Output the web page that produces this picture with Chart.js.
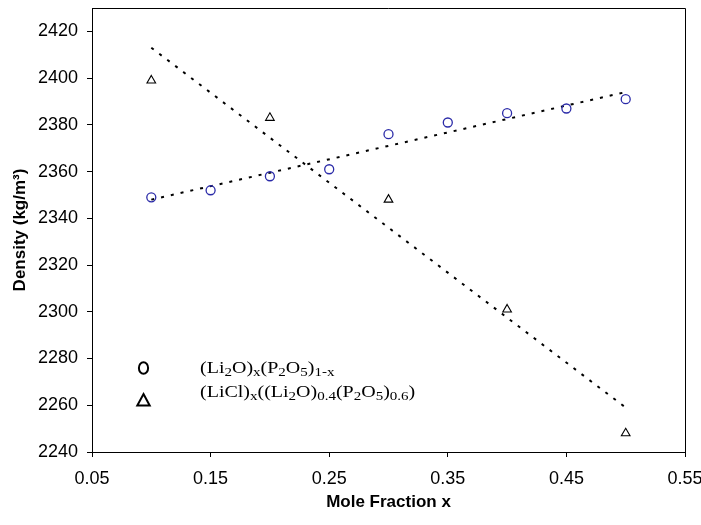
<!doctype html>
<html lang="en">
<head>
<meta charset="utf-8">
<title>Density vs mole fraction</title>
<script src="https://cdn.jsdelivr.net/npm/chart.js"></script>
<style>
  html, body { margin: 0; padding: 0; background: #fff; }
</style>
</head>
<body>
<canvas id="densityChart" width="701" height="525"></canvas>
<script>
// (Li2O)x(P2O5)1-x
const xLi2O = [0.10, 0.15, 0.20, 0.25, 0.30, 0.35, 0.40, 0.45, 0.50];
const densLi2O = [2349, 2352, 2358, 2361, 2376, 2381, 2385, 2387, 2391];

// (LiCl)x((Li2O)0.4(P2O5)0.6)
const xLiCl = [0.10, 0.20, 0.30, 0.40, 0.50];
const densLiCl = [2399, 2383, 2348, 2301, 2248];

// linear trend lines, end points
const trendX = [0.10, 0.50];
const trendLi2O = [2348, 2394];
const trendLiCl = [2413, 2259];

// axis ticks
const xTicks = { min: 0.05, max: 0.55, step: 0.1 };
const yTicks = { min: 2240, max: 2430, step: 20, lastLabel: 2420 };

const toXY = (xs, ys) => xs.map((x, i) => ({ x: x, y: ys[i] }));

const sansFont = 'Liberation Sans, Arial, sans-serif';
const serifFont = 'Liberation Serif, Times New Roman, serif';

// top/right frame of the plot area
const frameBox = {
    id: 'frameBox',
    beforeDatasetsDraw(chart) {
        const { ctx, chartArea: a } = chart;
        ctx.save();
        ctx.strokeStyle = '#000';
        ctx.lineWidth = 1;
        ctx.beginPath();
        ctx.moveTo(a.left, Math.round(a.top) + 0.5);
        ctx.lineTo(Math.round(a.right) + 0.5, Math.round(a.top) + 0.5);
        ctx.lineTo(Math.round(a.right) + 0.5, a.bottom);
        ctx.stroke();
        ctx.restore();
    }
};

// legend with subscripts, drawn inside the plot
const legendRows = [
    { marker: 'circle', parts: [['(Li', 0], ['2', 1], ['O)', 0], ['x', 1], ['(P', 0], ['2', 1], ['O', 0], ['5', 1], [')', 0], ['1-x', 1]] },
    { marker: 'triangle', parts: [['(LiCl)', 0], ['x', 1], ['((Li', 0], ['2', 1], ['O)', 0], ['0.4', 1], ['(P', 0], ['2', 1], ['O', 0], ['5', 1], [')', 0], ['0.6', 1], [')', 0]] }
];

const subLegend = {
    id: 'subLegend',
    afterDraw(chart) {
        const ctx = chart.ctx;
        ctx.save();
        ctx.fillStyle = '#000';
        ctx.strokeStyle = '#000';
        legendRows.forEach((row, r) => {
            const baseY = 373 + r * 24;
            const mx = 143.5;
            ctx.lineWidth = 2;
            ctx.beginPath();
            if (row.marker === 'circle') {
                ctx.ellipse(mx, 368, 4.6, 5.8, 0, 0, Math.PI * 2);
            } else {
                ctx.moveTo(mx, 394);
                ctx.lineTo(mx + 6.2, 405.5);
                ctx.lineTo(mx - 6.2, 405.5);
                ctx.closePath();
            }
            ctx.stroke();

            ctx.save();
            ctx.translate(200, baseY);
            ctx.scale(1.25, 1);
            ctx.textBaseline = 'alphabetic';
            let x = 0;
            row.parts.forEach(([txt, sub]) => {
                ctx.font = sub ? '12px ' + serifFont : '16px ' + serifFont;
                ctx.fillText(txt, x, sub ? 3 : 0);
                x += ctx.measureText(txt).width;
            });
            ctx.restore();
        });
        ctx.restore();
    }
};

const densityChart = new Chart(document.getElementById('densityChart'), {
    type: 'scatter',
    data: {
        datasets: [
            {
                label: '(Li2O)x(P2O5)1-x',
                data: toXY(xLi2O, densLi2O),
                pointStyle: 'circle',
                pointRadius: 4.5,
                pointBorderWidth: 1.3,
                pointBorderColor: '#2a2aa8',
                pointBackgroundColor: 'rgba(0,0,0,0)',
                showLine: false,
                order: 1
            },
            {
                label: '(LiCl)x((Li2O)0.4(P2O5)0.6)',
                data: toXY(xLiCl, densLiCl),
                pointStyle: 'triangle',
                pointRadius: 5,
                pointBorderWidth: 1.1,
                pointBorderColor: '#000',
                pointBackgroundColor: 'rgba(0,0,0,0)',
                showLine: false,
                order: 1
            },
            {
                label: 'trend 1',
                data: toXY(trendX, trendLi2O),
                showLine: true,
                borderColor: '#000',
                borderWidth: 2,
                borderDash: [3, 7],
                pointRadius: 0,
                order: 2
            },
            {
                label: 'trend 2',
                data: toXY(trendX, trendLiCl),
                showLine: true,
                borderColor: '#000',
                borderWidth: 2,
                borderDash: [3, 7],
                pointRadius: 0,
                order: 2
            }
        ]
    },
    options: {
        responsive: false,
        animation: false,
        layout: { padding: { top: 8, right: 16, left: 0, bottom: 0 } },
        plugins: {
            legend: { display: false },
            tooltip: { enabled: false }
        },
        scales: {
            x: {
                type: 'linear',
                min: xTicks.min,
                max: xTicks.max,
                ticks: {
                    stepSize: xTicks.step,
                    autoSkip: false,
                    maxRotation: 0,
                    padding: 11,
                    color: '#000',
                    font: { family: sansFont, size: 18 },
                    callback: v => v.toFixed(2)
                },
                grid: { drawOnChartArea: false, drawTicks: true, tickLength: 5, color: '#000' },
                border: { color: '#000', width: 1 },
                title: {
                    display: true,
                    text: 'Mole Fraction x',
                    color: '#000',
                    font: { family: sansFont, size: 17, weight: 'bold' },
                    padding: { top: 0, bottom: 12 }
                },
                afterFit: s => { s.height = 73; s.paddingLeft = 0; s.paddingRight = 0; }
            },
            y: {
                type: 'linear',
                min: yTicks.min,
                max: yTicks.max,
                afterBuildTicks: s => { s.ticks = s.ticks.filter(t => t.value <= yTicks.lastLabel); },
                ticks: {
                    stepSize: yTicks.step,
                    autoSkip: false,
                    padding: 9,
                    color: '#000',
                    font: { family: sansFont, size: 18 },
                    callback: v => String(v)
                },
                grid: { drawOnChartArea: false, drawTicks: true, tickLength: 5, color: '#000' },
                border: { color: '#000', width: 1 },
                title: {
                    display: true,
                    text: 'Density (kg/m³)',
                    color: '#000',
                    font: { family: sansFont, size: 17, weight: 'bold' },
                    padding: { top: 10, bottom: 0 }
                },
                afterFit: s => { s.width = 92; s.paddingTop = 0; s.paddingBottom = 0; }
            }
        }
    },
    plugins: [frameBox, subLegend]
});
</script>
</body>
</html>
